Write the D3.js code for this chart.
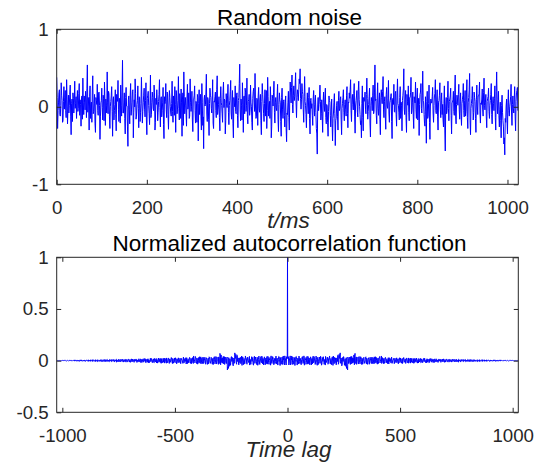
<!DOCTYPE html>
<html>
<head>
<meta charset="utf-8">
<script src="https://cdn.jsdelivr.net/npm/d3@7"></script>
<style>
  html, body { margin: 0; padding: 0; background: #ffffff; }
  svg { display: block; font-family: "Liberation Sans", Arial, Helvetica, sans-serif; }
</style>
</head>
<body>
<svg id="chart" width="543" height="462"></svg>
<script>
// ---------------- DATA ----------------
const topTitle = "Random noise";
const topXLabel = "t/ms";
const bottomTitle = "Normalized autocorrelation function";
const bottomXLabel = "Time lag";

// noise samples at even times t = 0, 2, 4, ... ms
const noiseEven = [
  0.38, -0.28, 0.05, 0.22, -0.12, 0.31, 0.08, -0.18, 0.26, 0.12, -0.05, 0.35, -0.22, 0.15, 0.02, 0.28,
  -0.36, 0.10, 0.18, -0.08, 0.33, 0.04, -0.15, 0.21, -0.02, 0.30, 0.09, -0.25, 0.14, 0.37, -0.10, 0.06,
  0.20, -0.14, 0.54, 0.12, -0.30, 0.27, 0.03, -0.20, 0.40, -0.06, 0.16, -0.33, 0.08, 0.29, -0.11, 0.19,
  -0.42, 0.05, 0.24, -0.17, 0.11, 0.32, -0.24, 0.02, 0.45, -0.09, 0.17, -0.28, 0.07, 0.26, -0.38, 0.13,
  -0.05, 0.22, -0.31, 0.10, 0.34, -0.19, 0.04, 0.28, -0.12, 0.60, -0.08, 0.18, -0.35, 0.25, 0.01, -0.51,
  0.14, -0.22, 0.30, -0.04, 0.20, -0.40, 0.09, 0.36, -0.16, 0.03, 0.27, -0.27, 0.12, -0.07, 0.38, -0.21,
  0.06, 0.24, -0.13, 0.31, -0.36, 0.15, 0.02, -0.23, 0.41, -0.10, 0.19, -0.02, 0.28, -0.30, 0.11, 0.22,
  -0.18, 0.07, 0.35, -0.26, 0.13, -0.05, 0.25, -0.41, 0.04, 0.30, -0.14, 0.17, -0.29, 0.21, 0.00, -0.12,
  0.33, -0.20, 0.08, 0.26, -0.33, 0.14, -0.03, 0.39, -0.17, 0.05, 0.23, -0.38, 0.18, 0.45, -0.09, 0.12,
  -0.25, 0.29, 0.01, -0.15, 0.36, -0.06, 0.20, -0.32, 0.10, 0.27, -0.21, 0.04, 0.16, -0.44, 0.22, 0.07,
  -0.12, 0.30, -0.24, -0.54, 0.15, 0.03, 0.42, -0.19, 0.09, -0.37, 0.24, 0.12, -0.08, 0.35, -0.28, 0.06,
  0.19, -0.14, 0.40, -0.04, 0.13, -0.31, 0.26, 0.02, -0.20, 0.32, 0.10, -0.35, 0.17, -0.01, 0.29, -0.23,
  0.08, 0.34, -0.16, 0.21, -0.40, 0.05, 0.27, -0.09, 0.18, -0.27, 0.12, 0.55, -0.18, 0.02, 0.31, -0.33,
  0.14, 0.24, -0.06, 0.37, -0.22, 0.09, -0.11, 0.28, 0.00, -0.30, 0.20, 0.06, 0.43, -0.15, 0.11, -0.24,
  0.25, -0.07, 0.16, -0.36, 0.30, 0.04, -0.19, 0.22, 0.10, -0.28, 0.38, -0.12, 0.07, 0.26, -0.40, 0.15,
  0.01, 0.33, -0.21, 0.12, -0.05, 0.29, -0.32, 0.18, 0.06, -0.38, 0.24, -0.15, 0.09, -0.26, 0.14, -0.45,
  -0.10, 0.20, -0.30, 0.32, 0.05, 0.41, -0.08, 0.27, 0.13, 0.44, -0.14, 0.22, 0.08, 0.36, 0.49, -0.03,
  0.30, 0.16, -0.20, 0.39, 0.02, -0.27, 0.18, -0.09, 0.25, -0.35, 0.11, 0.04, -0.24, 0.21, -0.12, 0.15,
  -0.28, -0.61, 0.12, 0.03, 0.28, -0.17, 0.09, -0.33, 0.19, -0.06, 0.24, -0.22, 0.01, -0.38, 0.14, 0.06,
  -0.26, 0.10, -0.44, -0.08, 0.17, -0.50, -0.15, 0.07, -0.30, 0.20, -0.02, 0.13, -0.36, 0.04, 0.22, -0.18,
  0.09, -0.12, 0.26, -0.27, 0.05, 0.11, 0.35, -0.19, 0.16, -0.04, 0.30, -0.34, 0.08, 0.21, -0.13, 0.33,
  0.00, -0.23, -0.40, 0.27, -0.31, 0.07, 0.19, -0.09, 0.37, -0.16, 0.03, 0.24, -0.39, 0.12, -0.05, 0.28,
  -0.06, 0.54, 0.10, -0.22, 0.31, -0.11, 0.18, -0.36, 0.22, 0.04, 0.39, -0.14, 0.13, -0.29, 0.25, -0.02,
  0.34, -0.20, 0.08, 0.17, -0.41, 0.11, 0.29, -0.07, 0.20, -0.25, 0.36, 0.02, -0.17, 0.26, 0.06, -0.31,
  0.15, 0.49, -0.10, 0.21, -0.33, 0.07, 0.27, -0.18, 0.12, 0.38, -0.05, 0.19, -0.28, 0.09, 0.32, -0.15,
  0.24, 0.01, -0.37, 0.16, 0.30, -0.08, 0.46, 0.05, -0.22, 0.13, -0.47, 0.20, -0.12, 0.28, -0.42, 0.10,
  0.05, 0.25, -0.20, 0.14, 0.35, -0.09, 0.22, -0.30, 0.08, 0.31, -0.14, 0.18, 0.03, -0.26, 0.27, -0.57,
  0.12, -0.05, 0.33, -0.18, 0.10, 0.24, -0.35, 0.06, 0.20, -0.11, 0.41, -0.22, 0.15, 0.02, 0.29, -0.16,
  0.18, -0.24, 0.09, 0.30, -0.13, 0.21, -0.06, 0.35, -0.28, 0.12, 0.43, -0.36, 0.04, 0.26, -0.17, 0.19,
  0.07, -0.33, 0.28, -0.10, 0.14, 0.32, -0.21, 0.03, 0.23, -0.12, 0.37, -0.04, 0.16, -0.27, 0.11, 0.24,
  -0.15, 0.08, 0.30, -0.22, 0.13, -0.05, 0.27, -0.30, 0.45, -0.09, 0.20, -0.26, 0.06, -0.40, 0.15, -0.18,
  -0.48, -0.62, -0.20, 0.10, -0.35, 0.22, -0.12, 0.05, 0.29, -0.24, 0.14, -0.08, 0.26, -0.31, 0.18, 0.25
];

// noise samples at odd times t = 1, 3, 5, ... ms
const noiseOdd = [
  0.12, -0.05, 0.18, -0.10, 0.02, 0.15, -0.20, 0.07, -0.03, 0.21, -0.14, 0.09, 0.00, -0.08, 0.16, -0.12,
  0.04, -0.19, 0.11, 0.06, -0.02, 0.13, 0.08, -0.06, 0.17, -0.11, 0.03, 0.10, -0.16, 0.05, 0.14, -0.04,
  0.09, 0.24, -0.07, 0.01, 0.13, -0.15, 0.06, 0.19, -0.09, 0.04, -0.22, 0.12, 0.03, -0.05, 0.18, 0.02,
  -0.13, 0.08, -0.01, 0.15, -0.18, 0.07, 0.10, -0.08, 0.05, 0.20, -0.12, 0.00, 0.14, -0.06, 0.09, -0.17,
  0.03, -0.10, 0.16, 0.07, -0.04, 0.11, -0.21, 0.02, 0.19, -0.08, 0.05, -0.15, 0.12, 0.01, -0.26, 0.09,
  -0.03, 0.14, -0.11, 0.06, 0.22, -0.07, 0.00, 0.17, -0.12, 0.08, -0.02, 0.13, -0.19, 0.04, 0.10, -0.06,
  0.15, -0.03, 0.08, -0.17, 0.11, 0.20, -0.09, 0.02, -0.14, 0.06, 0.12, -0.05, 0.18, -0.20, 0.03, 0.09,
  -0.07, 0.16, -0.01, 0.10, -0.13, 0.05, -0.23, 0.13, 0.07, -0.04, 0.19, -0.10, 0.01, 0.12, -0.08, 0.04,
  -0.06, 0.14, -0.11, 0.03, 0.21, -0.09, 0.08, -0.02, 0.17, -0.15, 0.05, 0.10, -0.24, 0.13, 0.02, -0.07,
  0.11, -0.03, 0.18, -0.12, 0.06, 0.00, -0.17, 0.09, 0.15, -0.05, 0.07, -0.20, 0.12, 0.04, -0.10, 0.16,
  -0.30, 0.06, -0.13, 0.10, 0.01, 0.19, -0.08, 0.12, -0.16, 0.04, 0.15, -0.02, 0.09, -0.21, 0.07, 0.13,
  -0.05, 0.22, -0.10, 0.03, -0.14, 0.11, 0.06, -0.09, 0.18, -0.01, 0.08, -0.18, 0.04, 0.14, -0.07, 0.02,
  0.20, -0.08, 0.05, -0.22, 0.12, 0.00, -0.06, 0.15, -0.11, 0.08, 0.30, -0.04, 0.10, -0.17, 0.03, 0.13,
  -0.09, 0.19, 0.02, -0.12, 0.07, 0.16, -0.03, 0.05, -0.20, 0.11, 0.24, -0.06, 0.01, -0.13, 0.09, 0.14,
  -0.02, 0.10, -0.18, 0.07, 0.16, -0.09, 0.04, -0.12, 0.21, -0.05, 0.13, 0.02, -0.15, 0.08, -0.25, 0.11,
  0.18, -0.07, 0.06, -0.01, 0.14, -0.16, 0.03, 0.09, -0.19, 0.12, -0.04, 0.07, -0.11, 0.05, -0.28, -0.08,
  0.06, -0.14, 0.10, 0.19, 0.25, 0.03, 0.15, 0.08, 0.28, 0.05, 0.12, 0.16, 0.22, 0.30, 0.11, 0.09,
  0.20, -0.04, 0.13, 0.07, -0.10, 0.05, 0.01, 0.12, -0.15, 0.08, -0.02, -0.11, 0.10, 0.03, 0.06, -0.07,
  -0.35, 0.01, -0.05, 0.14, 0.07, -0.09, -0.12, 0.05, 0.02, 0.10, -0.14, 0.03, -0.20, -0.06, 0.08, -0.11,
  -0.04, -0.22, -0.15, 0.06, -0.09, -0.18, 0.02, -0.13, 0.08, -0.05, 0.10, -0.16, -0.02, 0.12, -0.07, 0.03,
  -0.03, 0.15, -0.09, 0.06, 0.18, 0.22, -0.05, 0.10, 0.03, 0.17, -0.12, 0.01, 0.14, -0.07, 0.20, 0.09,
  -0.10, -0.18, 0.04, -0.14, 0.12, 0.08, -0.03, 0.16, 0.11, -0.06, 0.13, -0.21, 0.02, 0.07, 0.15, -0.09,
  0.19, 0.08, -0.11, 0.14, -0.02, 0.06, -0.16, 0.10, 0.12, 0.20, -0.04, 0.07, -0.13, 0.16, 0.01, 0.11,
  -0.08, 0.05, 0.13, -0.19, 0.09, 0.03, -0.06, 0.17, -0.10, 0.14, 0.04, -0.07, 0.12, -0.15, 0.02, 0.08,
  0.23, -0.03, 0.09, -0.14, 0.16, 0.02, -0.07, 0.12, 0.18, -0.09, 0.06, -0.12, 0.13, 0.05, -0.04, 0.10,
  -0.17, 0.11, 0.03, 0.19, -0.02, 0.14, 0.08, -0.10, -0.25, -0.06, 0.07, -0.15, 0.04, -0.20, 0.01, 0.05,
  0.13, -0.08, 0.02, 0.17, -0.05, 0.10, -0.13, 0.06, 0.15, -0.03, 0.08, -0.10, -0.16, 0.04, -0.30, 0.01,
  -0.09, 0.12, -0.02, 0.07, 0.14, -0.11, 0.05, 0.09, -0.06, 0.18, -0.12, 0.03, 0.10, 0.16, -0.04, 0.07,
  -0.09, 0.04, 0.15, -0.05, 0.08, -0.12, 0.19, -0.14, 0.06, 0.22, -0.18, -0.02, 0.11, 0.03, -0.07, 0.12,
  -0.15, 0.09, 0.01, 0.14, 0.17, -0.08, 0.05, 0.10, -0.04, 0.18, 0.02, 0.06, -0.13, 0.07, 0.13, -0.06,
  0.02, 0.16, -0.10, 0.05, 0.04, 0.11, -0.14, 0.20, 0.09, 0.06, -0.11, -0.03, -0.18, 0.02, -0.07, -0.26,
  -0.40, -0.15, 0.01, -0.17, 0.06, -0.05, 0.00, 0.13, -0.08, 0.03, -0.02, 0.10, -0.12, 0.07, 0.21, -0.05
];

// autocorrelation (symmetric in lag): lag 0, lags 3,6,9,... and lags 1,4,7,...
const acfZeroLag = 1.0;
const acfLagsA = [ // lags 3, 6, 9, ..., 1023
  0.031, -0.042, 0.018, 0.046, -0.025, 0.008, -0.038, 0.035, -0.012, 0.027, -0.047, 0.015, 0.040, -0.020, 0.005, -0.033, 0.044, -0.009, 0.022, -0.036,
  0.012, 0.039, -0.028, 0.017, -0.044, 0.030, 0.002, -0.019, 0.041, -0.034, 0.010, 0.025, -0.040, 0.036, -0.006, 0.020, -0.031, 0.043, -0.015, 0.004,
  -0.037, 0.028, 0.013, -0.045, 0.033, -0.010, 0.021, -0.026, 0.042, 0.001, -0.032, 0.016, 0.038, -0.021, 0.007, -0.043, 0.029, -0.004, 0.024, -0.035,
  0.019, 0.036, -0.023, 0.009, -0.039, 0.031, -0.013, 0.044, -0.030, 0.014, 0.003, -0.041, 0.026, -0.008, 0.048, -0.018, 0.022, 0.075, -0.027, 0.011,
  -0.034, 0.017, 0.039, -0.022, 0.006, -0.044, 0.029, -0.062, -0.090, 0.020, -0.015, 0.033, -0.037, 0.012, 0.041, -0.025, 0.004, 0.030, -0.040, 0.070,
  -0.028, 0.036, -0.010, 0.021, -0.033, 0.040, -0.019, 0.008, 0.027, -0.038, 0.014, -0.004, 0.032, -0.024, 0.010, 0.037, -0.030, 0.005, -0.016, 0.028,
  -0.035, 0.019, 0.003, -0.027, 0.034, -0.012, 0.023, -0.031, 0.009, 0.038, -0.020, 0.002, -0.034, 0.026, -0.008, 0.030, -0.022, 0.013, 0.045, -0.017,
  0.006, -0.029, 0.024, -0.011, 0.031, -0.023, 0.015, -0.003, 0.027, -0.032, 0.010, 0.020, -0.018, 0.034, -0.026, 0.004, 0.018, -0.030, 0.022, -0.007,
  0.025, -0.020, 0.009, -0.031, 0.017, 0.028, -0.012, 0.003, -0.025, 0.021, -0.008, 0.030, -0.016, 0.011, -0.027, 0.019, 0.002, -0.021, 0.026, -0.010,
  0.014, -0.024, 0.007, 0.022, -0.015, 0.018, -0.026, 0.004, 0.020, -0.011, 0.025, -0.019, 0.006, -0.023, 0.016, -0.004, 0.021, -0.017, 0.009, -0.020,
  0.019, -0.006, 0.023, -0.014, 0.005, -0.021, 0.016, -0.009, 0.012, -0.018, 0.020, 0.001, -0.015, 0.017, -0.007, 0.011, -0.019, 0.014, -0.003, 0.018,
  -0.012, 0.007, -0.017, 0.015, -0.004, 0.013, -0.016, 0.009, 0.002, -0.013, 0.017, -0.008, 0.011, -0.014, 0.004, 0.015, -0.010, 0.006, -0.015, 0.012,
  -0.003, 0.010, -0.013, 0.014, -0.007, 0.005, -0.012, 0.011, -0.002, 0.013, -0.010, 0.006, -0.014, 0.009, 0.001, -0.011, 0.012, -0.005, 0.008, -0.009,
  0.011, -0.004, 0.009, -0.011, 0.006, -0.008, 0.012, -0.003, 0.007, -0.010, 0.004, 0.009, -0.007, 0.002, -0.009, 0.010, -0.005, 0.006, -0.008, 0.003,
  0.008, -0.006, 0.004, -0.009, 0.007, -0.002, 0.005, -0.008, 0.009, -0.004, 0.002, -0.007, 0.006, -0.003, 0.008, -0.005, 0.001, 0.006, -0.007, 0.003,
  -0.005, 0.004, -0.006, 0.002, 0.006, -0.003, 0.005, -0.006, 0.001, 0.004, -0.005, 0.003, -0.002, 0.005, -0.004, 0.002, 0.004, -0.003, 0.001, -0.004,
  0.003, -0.002, 0.004, -0.003, 0.001, 0.002, -0.003, 0.002, -0.001, 0.003, -0.002, 0.001, 0.002, -0.002, 0.001, -0.001, 0.001, 0.000, -0.001, 0.001,
  0.000
];
const acfLagsB = [ // lags 1, 4, 7, ..., 1021
  0.022, 0.038, -0.030, 0.012, -0.041, 0.026, 0.045, -0.016, 0.004, -0.035, 0.030, -0.022, 0.037, 0.009, -0.043, 0.024, -0.011, 0.034, -0.028, 0.016,
  -0.040, 0.027, 0.007, -0.024, 0.046, -0.013, 0.019, -0.036, 0.032, -0.003, 0.040, -0.029, 0.015, -0.017, 0.036, -0.042, 0.008, 0.027, -0.021, 0.039,
  0.006, -0.031, 0.044, -0.018, 0.024, -0.039, 0.011, 0.035, -0.026, 0.020, -0.044, 0.031, -0.007, 0.026, -0.036, 0.013, 0.041, -0.019, 0.003, 0.033,
  -0.026, 0.012, 0.045, -0.031, 0.021, -0.016, 0.037, -0.046, 0.008, 0.032, -0.020, 0.027, -0.038, 0.014, 0.052, -0.035, 0.060, 0.040, -0.012, 0.025,
  -0.050, 0.030, -0.008, 0.036, -0.045, 0.018, -0.055, -0.075, -0.060, 0.035, -0.028, 0.022, -0.014, 0.038, -0.032, 0.016, 0.027, -0.019, 0.055, 0.045,
  -0.017, 0.029, -0.036, 0.012, 0.034, -0.025, 0.006, -0.031, 0.038, -0.010, 0.023, -0.034, 0.019, 0.002, -0.027, 0.030, -0.013, 0.024, -0.036, 0.009,
  0.026, -0.022, 0.033, -0.006, 0.017, -0.030, 0.028, -0.015, 0.036, -0.025, 0.011, 0.031, -0.019, 0.005, -0.029, 0.022, 0.040, -0.010, 0.018, -0.027,
  0.030, -0.012, 0.020, -0.027, 0.009, 0.025, -0.021, 0.013, -0.030, 0.018, 0.029, -0.008, 0.014, -0.024, 0.027, -0.016, 0.006, 0.023, -0.026, 0.012,
  -0.018, 0.027, -0.004, 0.019, -0.024, 0.012, -0.020, 0.025, -0.009, 0.016, -0.028, 0.008, 0.022, -0.013, 0.017, -0.022, 0.026, -0.006, 0.011, -0.025,
  0.020, -0.009, 0.024, -0.016, 0.003, -0.021, 0.015, 0.022, -0.018, 0.007, -0.014, 0.019, -0.024, 0.011, 0.021, -0.012, 0.004, -0.020, 0.017, 0.006,
  -0.016, 0.021, -0.010, 0.013, -0.019, 0.008, 0.018, -0.013, 0.004, -0.020, 0.015, -0.006, 0.019, -0.011, 0.010, -0.017, 0.005, 0.016, -0.014, 0.009,
  0.015, -0.014, 0.006, -0.010, 0.016, -0.005, 0.012, -0.015, 0.008, 0.014, -0.009, 0.003, -0.016, 0.011, -0.006, 0.013, -0.012, 0.005, 0.010, -0.013,
  0.012, -0.008, 0.005, -0.014, 0.010, -0.003, 0.013, -0.009, 0.006, -0.012, 0.008, 0.002, -0.010, 0.013, -0.005, 0.007, -0.013, 0.010, -0.002, 0.009,
  -0.010, 0.007, -0.004, 0.011, -0.009, 0.003, -0.006, 0.010, -0.008, 0.005, 0.011, -0.006, 0.003, -0.010, 0.008, -0.002, 0.009, -0.007, 0.004, -0.005,
  0.007, -0.009, 0.003, -0.004, 0.008, -0.006, 0.002, 0.007, -0.008, 0.005, -0.001, 0.008, -0.005, 0.003, -0.007, 0.006, -0.004, 0.002, 0.005, -0.006,
  0.005, -0.003, 0.006, -0.005, 0.002, -0.004, 0.006, -0.002, 0.004, -0.005, 0.001, 0.004, -0.004, 0.002, -0.003, 0.005, -0.001, 0.003, -0.004, 0.002,
  -0.003, 0.003, -0.001, 0.002, -0.003, 0.002, 0.001, -0.002, 0.003, -0.001, 0.000, 0.002, -0.002, 0.001, -0.001, 0.001, -0.001, 0.000, 0.001, -0.001,
  0.000
];

const topXDomain = [0, 1024];
const topYDomain = [-1, 1];
const topXTicks = [0, 200, 400, 600, 800, 1000];
const topYTicks = [-1, 0, 1];

const botXDomain = [-1025, 1025];
const botYDomain = [-0.5, 1];
const botXTicks = [-1000, -500, 0, 500, 1000];
const botYTicks = [-0.5, 0, 0.5, 1];

// ---------------- DRAW ----------------
const svg = d3.select("#chart");
const axisColor = "#262626";
const lineColor = "#0000ff";
const tickFont = 18.7;
const labelFont = 22.5;
const tickLen = 4.5;

const topSeries = [];
noiseEven.forEach((v, i) => topSeries.push({ x: 2 * i, y: v }));
noiseOdd.forEach((v, i) => topSeries.push({ x: 2 * i + 1, y: v }));
topSeries.sort((a, b) => a.x - b.x);

const acfHalf = [];
acfLagsA.forEach((v, i) => acfHalf.push({ x: 3 * (i + 1), y: v }));
acfLagsB.forEach((v, i) => acfHalf.push({ x: 3 * i + 1, y: v }));
const acfSeries = [{ x: 0, y: acfZeroLag }];
acfHalf.forEach(d => { acfSeries.push(d); acfSeries.push({ x: -d.x, y: d.y }); });
acfSeries.sort((a, b) => a.x - b.x);

function panel(box, xDomain, yDomain, xTicks, yTicks, series, title, xlabel, id, titleGap, labelGap) {
  const x = d3.scaleLinear().domain(xDomain).range([box.left, box.right]);
  const y = d3.scaleLinear().domain(yDomain).range([box.bottom, box.top]);
  const g = svg.append("g");

  const clipId = "clip" + id;
  svg.append("clipPath").attr("id", clipId).append("rect")
    .attr("x", box.left).attr("y", box.top)
    .attr("width", box.right - box.left).attr("height", box.bottom - box.top);
  g.append("path")
    .datum(series)
    .attr("clip-path", `url(#${clipId})`)
    .attr("fill", "none")
    .attr("stroke", lineColor)
    .attr("stroke-width", 1)
    .attr("stroke-linejoin", "round")
    .attr("d", d3.line().x(d => x(d.x)).y(d => y(d.y)));

  const bottomAxis = g.append("g").attr("transform", `translate(0,${box.bottom})`)
    .call(d3.axisBottom(x).tickValues(xTicks).tickSize(-tickLen).tickPadding(16));
  const topAxis = g.append("g").attr("transform", `translate(0,${box.top})`)
    .call(d3.axisTop(x).tickValues(xTicks).tickSize(-tickLen).tickFormat(""));
  const leftAxis = g.append("g").attr("transform", `translate(${box.left},0)`)
    .call(d3.axisLeft(y).tickValues(yTicks).tickSize(-tickLen).tickPadding(8));
  const rightAxis = g.append("g").attr("transform", `translate(${box.right},0)`)
    .call(d3.axisRight(y).tickValues(yTicks).tickSize(-tickLen).tickFormat(""));
  [bottomAxis, topAxis, leftAxis, rightAxis].forEach(a => {
    a.select(".domain").remove();
    a.selectAll("line").attr("stroke", axisColor).attr("stroke-width", 1);
    a.selectAll("text").attr("fill", axisColor).style("font-size", tickFont + "px")
      .style("font-family", '"Liberation Sans", Arial, Helvetica, sans-serif');
  });
  bottomAxis.selectAll("text").text(d => String(d));
  leftAxis.selectAll("text").text(d => String(d));

  g.append("rect")
    .attr("x", box.left).attr("y", box.top)
    .attr("width", box.right - box.left).attr("height", box.bottom - box.top)
    .attr("fill", "none").attr("stroke", axisColor).attr("stroke-width", 1);

  const cx = (box.left + box.right) / 2;
  g.append("text").attr("x", cx + 2).attr("y", box.top - titleGap)
    .attr("text-anchor", "middle").attr("fill", "#000")
    .style("font-size", labelFont + "px").text(title);
  g.append("text").attr("x", cx + 1).attr("y", box.bottom + labelGap)
    .attr("text-anchor", "middle").attr("fill", axisColor)
    .style("font-size", labelFont + "px").style("font-style", "italic").text(xlabel);
}

panel({ left: 56.7, right: 518.3, top: 29.3, bottom: 184.3 },
  topXDomain, topYDomain, topXTicks, topYTicks, topSeries, topTitle, topXLabel, "top", 4.5, 44);
panel({ left: 56.7, right: 518.3, top: 257.3, bottom: 412.3 },
  botXDomain, botYDomain, botXTicks, botYTicks, acfSeries, bottomTitle, bottomXLabel, "bot", 6.5, 45);
</script>
</body>
</html>
